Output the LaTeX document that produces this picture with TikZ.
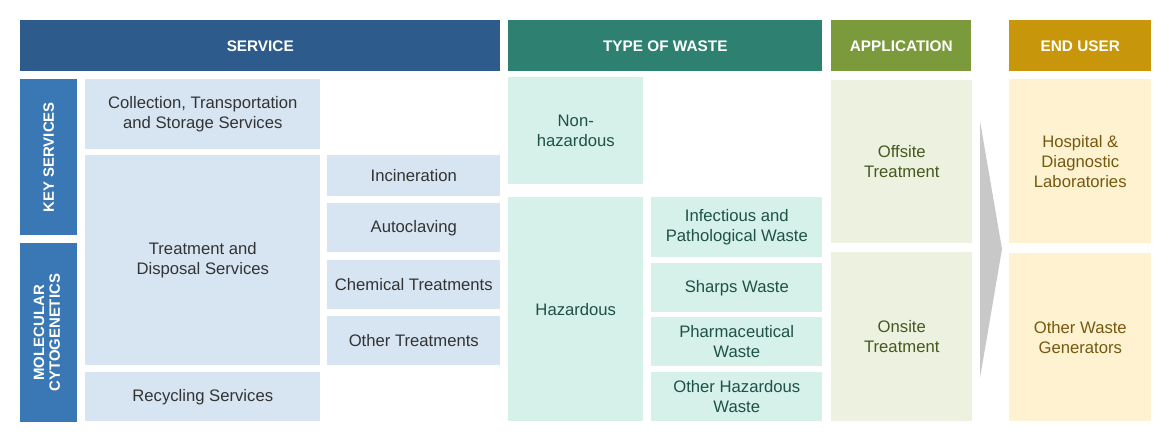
\documentclass[tikz,border=0pt]{standalone}
\usepackage{fontspec}
\setmainfont{Liberation Sans}
\usepackage{graphicx}
\definecolor{svcdark}{HTML}{2D5B8C}
\definecolor{svcmid}{HTML}{3A78B5}
\definecolor{svclight}{HTML}{D7E5F2}
\definecolor{wastedark}{HTML}{2E8170}
\definecolor{wastelight}{HTML}{D6F0EA}
\definecolor{wastetext}{HTML}{1F5247}
\definecolor{appdark}{HTML}{7A9A3C}
\definecolor{applight}{HTML}{EDF1DF}
\definecolor{apptext}{HTML}{45581F}
\definecolor{userdark}{HTML}{C8960A}
\definecolor{userlight}{HTML}{FEF2D0}
\definecolor{usertext}{HTML}{765810}
\definecolor{arrowgray}{HTML}{C8C8C8}
\usetikzlibrary{positioning}

\begin{document}
\begin{tikzpicture}[x=0.75pt, y=-0.75pt,
    cell/.style={anchor=north west, inner sep=0pt, align=center,
      font=\fontsize{12.5}{15}\selectfont},
    wh/.style 2 args={minimum width=#1*0.75pt, minimum height=#2*0.75pt},
    head/.style={cell, text=white, font=\bfseries\fontsize{11.5}{13}\selectfont},
    side/.style={cell, fill=svcmid, text=white,
      font=\bfseries\fontsize{11.2}{11.8}\selectfont},
    svcbox/.style={cell, fill=svclight, text=black!80},
    wastebox/.style={cell, fill=wastelight, text=wastetext},
    appbox/.style={cell, fill=applight, text=apptext},
    userbox/.style={cell, fill=userlight, text=usertext}]
  \useasboundingbox (0,0) rectangle (1170,442);

  % column headers
  \node[head, fill=svcdark, wh={480}{51}] (hsvc) at (20,20) {SERVICE};
  \node[head, fill=wastedark, wh={314}{51}] (hwaste) at (508,20) {TYPE OF WASTE};
  \node[head, fill=appdark, wh={140}{51}] (happ) at (831,20) {APPLICATION};
  \node[head, fill=userdark, wh={142}{51}] (huser) at (1009,20) {END USER};

  % service
  \node[side, wh={57}{156}] (key) at (20,79)
    {\rotatebox{90}{KEY SERVICES}};
  \node[side, wh={57}{179}] (molec) at (20,243)
    {\rotatebox{90}{\begin{tabular}{@{}c@{}}MOLECULAR\\CYTOGENETICS\end{tabular}}};
  \node[svcbox, wh={235}{70}] (collect) at (85,79)
    {Collection, Transportation\\and Storage Services};
  \node[svcbox, wh={235}{210}] (treat) at (85,155)
    {Treatment and\\Disposal Services};
  \node[svcbox, wh={235}{49}] (recycle) at (85,372) {Recycling Services};
  \node[svcbox, wh={173}{41}] (incin) at (327,155) {Incineration};
  \node[svcbox, wh={173}{49}] (autoc) at (327,203) {Autoclaving};
  \node[svcbox, wh={173}{49}] (chem) at (327,260) {Chemical Treatments};
  \node[svcbox, wh={173}{49}] (othtreat) at (327,316) {Other Treatments};

  % type of waste
  \node[wastebox, wh={135}{107}] (nonhaz) at (508,77) {Non-\\hazardous};
  \node[wastebox, wh={135}{224}] (haz) at (508,197) {Hazardous};
  \node[wastebox, wh={171}{60}] (infect) at (651,197)
    {Infectious and\\Pathological Waste};
  \node[wastebox, wh={171}{49}] (sharps) at (651,263) {Sharps Waste};
  \node[wastebox, wh={171}{49}] (pharma) at (651,317) {Pharmaceutical\\Waste};
  \node[wastebox, wh={171}{49}] (othhaz) at (651,372) {Other Hazardous\\Waste};

  % application
  \node[appbox, wh={141}{163}] (offsite) at (831,80) {Offsite\\Treatment};
  \node[appbox, wh={141}{169}] (onsite) at (831,252) {Onsite\\Treatment};

  % end user
  \node[userbox, wh={142}{164}] (hosp) at (1009,79)
    {Hospital \&\\Diagnostic\\Laboratories};
  \node[userbox, wh={142}{168}] (othgen) at (1009,253)
    {Other Waste\\Generators};

  \fill[arrowgray] (980,121) -- (1002,249) -- (980,378) -- cycle;
\end{tikzpicture}
\end{document}
